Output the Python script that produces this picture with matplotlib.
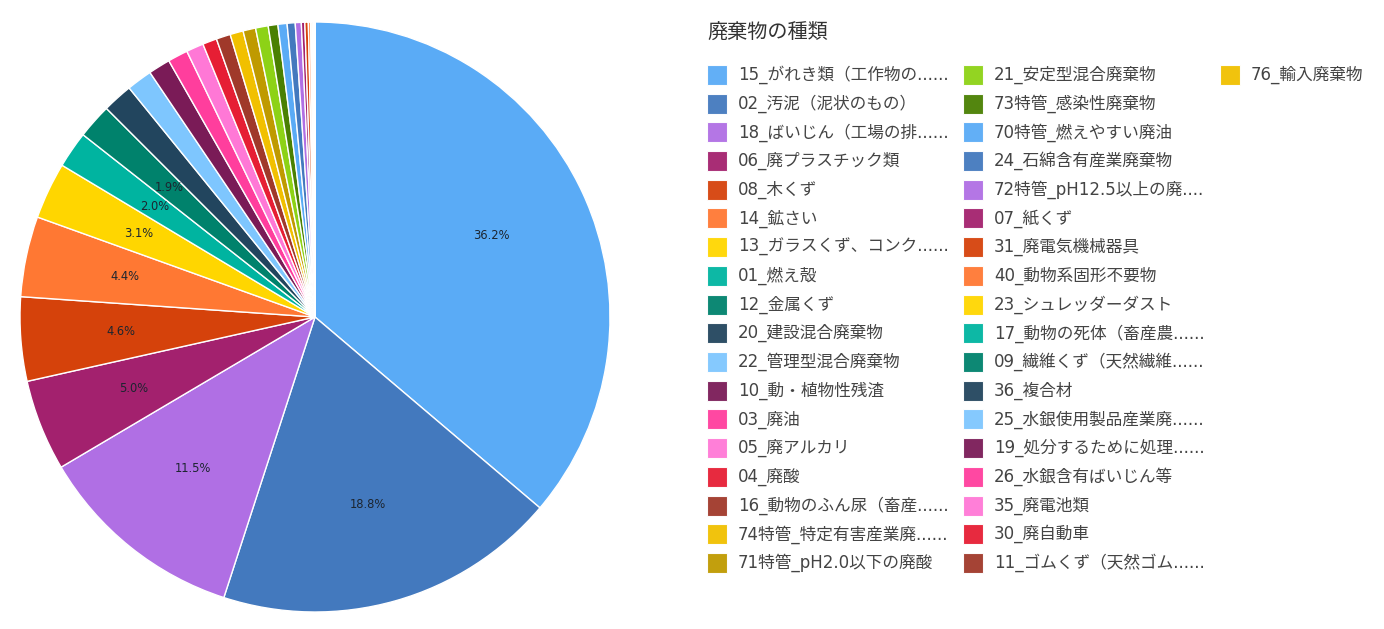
import matplotlib
matplotlib.use("Agg")
import matplotlib.pyplot as plt
from matplotlib.patches import Rectangle

plt.rcParams['font.family'] = ['DejaVu Sans', 'Noto Sans CJK JP']

# share of each waste type (%)
labels = [
    "15_がれき類（工作物の......", "02_汚泥（泥状のもの）", "18_ばいじん（工場の排......",
    "06_廃プラスチック類", "08_木くず", "14_鉱さい", "13_ガラスくず、コンク......",
    "01_燃え殻", "12_金属くず", "20_建設混合廃棄物", "22_管理型混合廃棄物",
    "10_動・植物性残渣", "03_廃油", "05_廃アルカリ", "04_廃酸",
    "16_動物のふん尿（畜産......", "74特管_特定有害産業廃......", "71特管_pH2.0以下の廃酸",
    "21_安定型混合廃棄物", "73特管_感染性廃棄物", "70特管_燃えやすい廃油",
    "24_石綿含有産業廃棄物", "72特管_pH12.5以上の廃....", "07_紙くず",
    "31_廃電気機械器具", "40_動物系固形不要物", "23_シュレッダーダスト",
    "17_動物の死体（畜産農......", "09_繊維くず（天然繊維......", "36_複合材",
    "25_水銀使用製品産業廃......", "19_処分するために処理......", "26_水銀含有ばいじん等",
    "35_廃電池類", "30_廃自動車", "11_ゴムくず（天然ゴム......", "76_輸入廃棄物",
]
shares = [
    36.2, 18.8, 11.5, 5.0, 4.6, 4.4, 3.1, 2.0, 1.9, 1.65, 1.4,
    1.2, 1.1, 0.95, 0.78, 0.78, 0.72, 0.69, 0.69, 0.53, 0.50,
    0.44, 0.33, 0.19, 0.19, 0.12, 0.08, 0.05, 0.04, 0.02,
    0.015, 0.01, 0.01, 0.005, 0.005, 0.003, 0.002,
]
legend_title = "廃棄物の種類"

palette = ["#5AABF6", "#4379BE", "#B06FE4", "#A3216E", "#D5420B", "#FF7833",
           "#FFD600", "#00B4A0", "#00826C", "#22455E", "#7EC6FE", "#7A1B57",
           "#FF3E9D", "#FF78D6", "#E61E34", "#A0392A", "#F1C000", "#BF9A00",
           "#8DD216", "#4A8002"]
colors = [palette[i % len(palette)] for i in range(len(shares))]

W, H = 1384, 629
fig = plt.figure(figsize=(W / 100, H / 100), dpi=100)

def fx(px):
    return px / W

def fy(py):
    return 1 - py / H

# pie: centre (315, 317), radius 295 px
cx, cy, r = 315, 317, 295
ax = fig.add_axes([fx(cx - r), fy(cy + r), 2 * r / W, 2 * r / H])

def pct(p):
    return "%.1f%%" % p if p >= 1.85 else ""

ax.pie(shares, colors=colors, startangle=90, counterclock=False,
       autopct=pct, pctdistance=0.66,
       wedgeprops=dict(edgecolor="white", linewidth=1),
       textprops=dict(fontsize=8.3, color="#1c2530"))
ax.set_xlim(-1, 1)
ax.set_ylim(-1, 1)
ax.set_aspect("equal")
ax.axis("off")

# legend, drawn by hand: 18 rows per column
fig.text(fx(707), fy(33), legend_title, fontsize=14.5, color="#333333",
         va="center", ha="left")
col_x = [707, 963, 1220]
row0, step = 75, 28.7
for i, (lab, col) in enumerate(zip(labels, colors)):
    c, row = divmod(i, 18)
    x = col_x[c]
    y = row0 + row * step
    fig.add_artist(Rectangle((fx(x), fy(y + 10)), 20 / W, 20 / H,
                             transform=fig.transFigure, facecolor=col,
                             edgecolor="white", linewidth=0.8, alpha=0.95))
    fig.text(fx(x + 31), fy(y), lab, fontsize=12, color="#444444",
             va="center", ha="left")

fig.savefig("out.png", dpi=100)
